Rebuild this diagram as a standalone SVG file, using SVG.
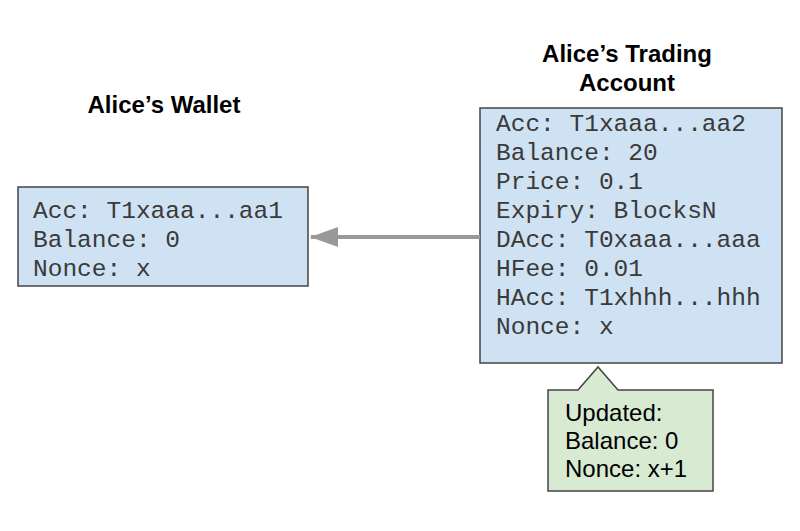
<svg xmlns="http://www.w3.org/2000/svg" width="800" height="531" viewBox="0 0 800 531">
<style>
.title{font-family:"Liberation Sans",Arial,sans-serif;font-weight:bold;font-size:24px;fill:#000;text-anchor:middle}
.mono{font-family:"Liberation Mono","Courier New",monospace;font-size:24.5px;fill:#3a3a3a}
.sans{font-family:"Liberation Sans",Arial,sans-serif;font-size:24px;fill:#000}
.box{fill:#cfe2f3;stroke:#444;stroke-width:1.5}
.note{fill:#d9ead3;stroke:#444;stroke-width:1.5}
</style>
<defs>
<marker id="ah" markerWidth="7" markerHeight="5" refX="6.8" refY="2.5" orient="auto" markerUnits="strokeWidth">
<path d="M0,0 L7,2.5 L0,5 Z" fill="#999"/>
</marker>
</defs>
<rect width="800" height="531" fill="#fff"/>
<g id="wallet">
<text class="title" x="164" y="113">Alice’s Wallet</text>
<rect class="box" x="18" y="187" width="290" height="99"/>
<text class="mono" x="33" y="218">Acc: T1xaaa...aa1</text>
<text class="mono" x="33" y="247">Balance: 0</text>
<text class="mono" x="33" y="276">Nonce: x</text>
</g>
<g id="trading">
<text class="title" x="627" y="62">Alice’s Trading</text>
<text class="title" x="627" y="91">Account</text>
<rect class="box" x="480" y="108" width="302" height="255"/>
<text class="mono" x="496" y="131">Acc: T1xaaa...aa2</text>
<text class="mono" x="496" y="160">Balance: 20</text>
<text class="mono" x="496" y="189">Price: 0.1</text>
<text class="mono" x="496" y="218">Expiry: BlocksN</text>
<text class="mono" x="496" y="247">DAcc: T0xaaa...aaa</text>
<text class="mono" x="496" y="276">HFee: 0.01</text>
<text class="mono" x="496" y="305">HAcc: T1xhhh...hhh</text>
<text class="mono" x="496" y="334">Nonce: x</text>
</g>
<g id="updated">
<path class="note" d="M548,390 L578,390 L598,367 L618,390 L713,390 L713,491 L548,491 Z"/>
<text class="sans" x="565" y="421">Updated:</text>
<text class="sans" x="565" y="449">Balance: 0</text>
<text class="sans" x="565" y="477">Nonce: x+1</text>
</g>
<g id="connectors">
<line x1="480" y1="237" x2="311" y2="237" stroke="#999" stroke-width="4" marker-end="url(#ah)"/>
</g>
</svg>
